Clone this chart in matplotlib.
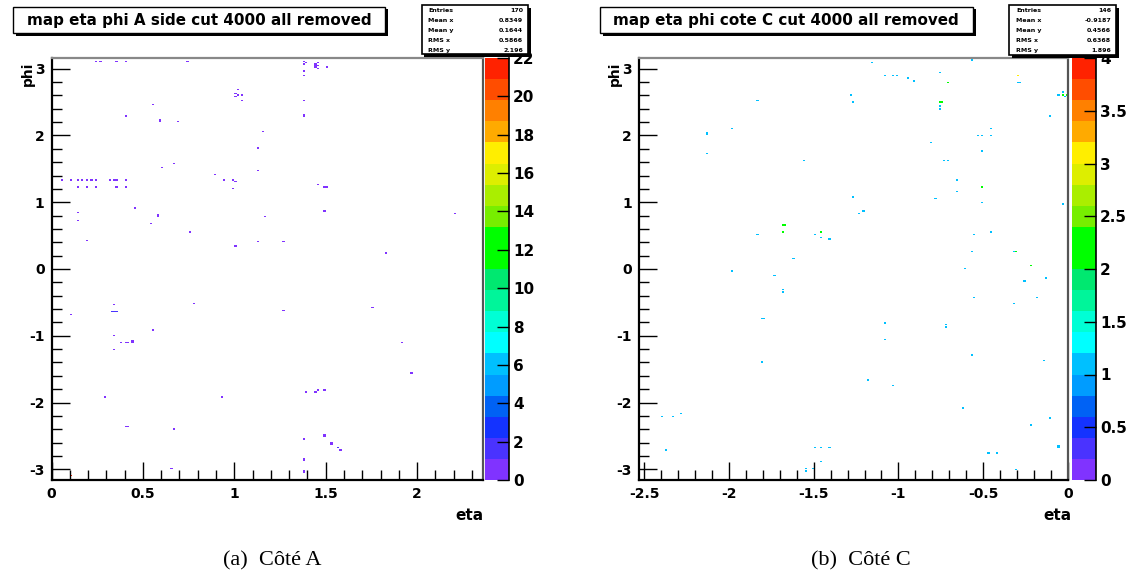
import matplotlib
matplotlib.use('Agg')
import matplotlib.pyplot as plt
import numpy as np
from matplotlib.colors import ListedColormap
from matplotlib.patches import Rectangle

plt.rcParams['font.family'] = ['DejaVu Sans']
plt.rcParams['axes.unicode_minus'] = False

# ---- cote A : single entry cells (eta, phi) ----
eta_a = [0.24, 0.27, 0.36, 0.40, 0.74,
         1.38, 1.38, 1.40, 1.45, 1.46, 1.45, 1.46, 1.45, 1.46, 1.50, 1.38, 1.38,
         0.56, 0.59, 0.59, 0.69, 0.41,
         1.005, 1.005, 1.025, 1.025, 1.04, 1.04,
         1.16, 1.13, 1.126, 1.38, 1.38, 1.38,
         0.61, 0.665, 0.89, 0.95, 0.99, 1.00, 0.99,
         0.05, 0.11, 0.145, 0.17, 0.19, 0.22, 0.24, 0.32, 0.34, 0.36, 0.40,
         0.145, 0.19, 0.24, 0.36, 0.40,
         1.46, 1.49, 1.50, 1.49,
         0.145, 0.145, 0.19, 0.45, 0.58, 0.58, 0.54, 0.76,
         1.005, 1.126, 1.17, 1.27, 1.83, 2.21,
         0.10, 0.35,
         0.785, 0.56, 0.34, 0.34, 0.38, 0.41, 0.42, 0.44, 0.44,
         0.29, 0.93, 0.40, 0.42, 0.665, 0.65,
         1.27, 1.76, 1.92, 1.97,
         1.40, 1.40, 1.44, 1.44, 1.457, 1.49,
         1.38, 1.49, 1.49, 1.53, 1.53, 1.565, 1.575, 1.578,
         1.38, 1.38, 1.38, 1.38]
phi_a = [3.11, 3.10, 3.12, 3.12, 3.10,
         3.11, 3.07, 3.08, 3.07, 3.08, 3.04, 3.04, 3.02, 3.00, 3.02, 2.96, 2.91,
         2.47, 2.24, 2.21, 2.21, 2.29,
         2.62, 2.59, 2.69, 2.61, 2.61, 2.53,
         2.07, 1.82, 1.48, 2.52, 2.32, 2.29,
         1.52, 1.58, 1.42, 1.34, 1.34, 1.31, 1.20,
         1.33, 1.33, 1.33, 1.33, 1.33, 1.33, 1.33, 1.33, 1.33, 1.33, 1.33,
         1.23, 1.23, 1.23, 1.23, 1.23,
         1.27, 1.23, 1.23, 0.87,
         0.84, 0.72, 0.43, 0.92, 0.81, 0.79, 0.68, 0.55,
         0.34, 0.41, 0.79, 0.41, 0.24, 0.83,
         -0.69, -0.53,
         -0.52, -0.92, -1.00, -1.21, -1.11, -1.11, -1.11, -1.07, -1.09,
         -1.91, -1.92, -2.35, -2.35, -2.39, -2.98,
         -0.62, -0.58, -1.11, -1.57,
         -1.83, -1.85, -1.83, -1.85, -1.82, -1.82,
         -2.54, -2.49, -2.51, -2.60, -2.63, -2.67, -2.67, -2.71,
         -2.83, -2.85, -3.02, -3.05]
# cells with more entries
eta_a_hi = [0.33, 0.345, 0.36, 0.104]
phi_a_hi = [-0.635, -0.635, -0.635, -3.08]
n_a_hi = [2, 2, 2, 22]

# ---- cote C ----
eta_c = [-1.83, -2.13, -2.13, -1.98, -2.13, -1.55, -1.83,
         -1.62, -1.49, -1.46, -1.45, -1.45, -1.405,
         -1.16, -0.57, -1.08, -1.025, -1.01, -0.94, -0.91, -0.76,
         -0.295, -0.28, -1.28, -1.27, -0.76, -0.76,
         -0.03, -0.06, -0.02, -0.10,
         -0.45, -0.53, -0.50, -0.45, -0.81, -0.50, -0.725, -0.71,
         -0.66, -0.66, -1.27, -0.78, -0.50, -0.03, -1.21, -1.225,
         -0.55, -0.45, -0.57, -0.315,
         -1.98, -1.73, -1.68, -1.68, -1.81, -1.79, -1.81,
         -2.39, -2.33, -2.28, -2.37,
         -1.49, -1.45, -1.405, -1.45, -1.545, -1.545, -1.51,
         -1.08, -1.08, -0.72, -0.72, -0.55, -0.32, -0.18,
         -1.18, -1.03, -0.565, -0.14, -0.62, -0.11, -0.22,
         -0.06, -0.06, -0.47, -0.42, -0.30, -0.61, -0.26, -0.13]
phi_c = [2.53, 2.04, 2.02, 2.10, 1.72, 1.62, 0.52,
         0.16, 0.52, 0.56, 0.55, 0.47, 0.46,
         3.09, 3.13, 2.90, 2.90, 2.90, 2.85, 2.81, 2.94,
         2.79, 2.79, 2.60, 2.51, 2.45, 2.39,
         2.65, 2.60, 2.58, 2.29,
         2.10, 1.99, 1.99, 1.99, 1.90, 1.76, 1.62, 1.62,
         1.33, 1.17, 1.08, 1.05, 1.00, 0.97, 0.86, 0.83,
         0.52, 0.56, 0.26, 0.26,
         -0.03, -0.10, -0.31, -0.34, -0.74, -0.74, -1.40,
         -2.20, -2.20, -2.17, -2.72,
         -2.67, -2.67, -2.67, -2.87, -2.99, -3.02, -2.99,
         -0.81, -1.06, -0.82, -0.86, -0.43, -0.51, -0.43,
         -1.67, -1.75, -1.29, -1.37, -2.08, -2.24, -2.33,
         -2.64, -2.68, -2.76, -2.76, -3.01, 0.0, -0.17, -0.14]
eta_c_hi = [-1.68, -1.665, -1.675, -0.705, -0.755, -0.74, -0.03, -0.01,
            -0.50, -0.30, -0.22, -0.29]
phi_c_hi = [0.65, 0.65, 0.55, 2.79, 2.51, 2.51, 2.60, 2.60,
            1.23, 0.26, 0.06, 2.90]
n_c_hi = [2, 2, 2, 2, 2, 2, 2, 2, 2, 2, 2, 3]

# ROOT like palette, 20 contours
pal = ['#8033ff', '#4a33ff', '#1433ff', '#0062f5', '#009cff', '#00c0ff',
       '#00ffff', '#00ffd5', '#00f59a', '#00e870', '#00ff00', '#00ff00',
       '#77ee00', '#aaee00', '#ddee00', '#ffee00', '#ffaa00', '#ff8000',
       '#ff4d00', '#ff2200']
cmap = ListedColormap(pal)

W, H = 1131, 578
fig = plt.figure(figsize=(W / 100, H / 100), dpi=100)


def box(x0, y0, x1, y1):
    return [x0 / W, 1 - y1 / H, (x1 - x0) / W, (y1 - y0) / H]


def frame(x0, y0, x1, y1, lw=1.0):
    # shadow + white box, ROOT style
    fig.patches.append(Rectangle((x0 / W + 2.5 / W, 1 - y1 / H - 2.5 / H), (x1 - x0) / W, (y1 - y0) / H,
                                 transform=fig.transFigure, facecolor='black', edgecolor='black', lw=0))
    fig.patches.append(Rectangle((x0 / W, 1 - y1 / H), (x1 - x0) / W, (y1 - y0) / H,
                                 transform=fig.transFigure, facecolor='white', edgecolor='black', lw=lw))


def panel(ax_rect, cb_rect, eta, phi, eta_hi, phi_hi, n_hi, xbins, xlim, vmax, cticks, xticks):
    ax = fig.add_axes(box(*ax_rect))
    cax = fig.add_axes(box(*cb_rect))
    ybins = np.linspace(-np.pi, np.pi, 301)
    x = list(eta) + list(eta_hi)
    y = list(phi) + list(phi_hi)
    w = [1] * len(eta) + list(n_hi)
    h = ax.hist2d(x, y, bins=[xbins, ybins], weights=w, cmin=0.5,
                  cmap=cmap, vmin=0, vmax=vmax)
    ax.set_xlim(*xlim)
    ax.set_ylim(-3.16, 3.16)
    ax.set_xticks(xticks)
    ax.set_xticks(np.arange(xticks[0], xlim[1], 0.1), minor=True)
    ax.set_yticks([-3, -2, -1, 0, 1, 2, 3])
    ax.set_yticks(np.arange(-3, 3.1, 0.2), minor=True)
    ax.set_xticklabels(['%g' % t for t in xticks])
    ax.set_yticklabels(['%g' % t for t in [-3, -2, -1, 0, 1, 2, 3]])
    ax.tick_params(which='both', direction='in', top=False, right=False, width=1.0,
                   labelsize=10, pad=5)
    ax.tick_params(which='major', length=13)
    ax.tick_params(which='minor', length=7)
    for lab in ax.get_xticklabels() + ax.get_yticklabels():
        lab.set_fontweight('bold')
    ax.spines['left'].set_linewidth(1.6)
    ax.spines['bottom'].set_linewidth(1.6)
    ax.spines['top'].set_color('#888888')
    ax.spines['right'].set_color('#555555')
    ax.spines['top'].set_linewidth(1.6)
    ax.spines['right'].set_linewidth(1.6)

    cb = fig.colorbar(h[3], cax=cax, ticks=cticks)
    cb.outline.set_visible(False)
    cax.plot([1, 1], [0, 1], color='black', lw=1.2, transform=cax.transAxes, clip_on=False)
    cax.tick_params(direction='in', length=9, width=1.0, labelsize=11, pad=3)
    cax.set_yticklabels(['%g' % t for t in cticks])
    for lab in cax.get_yticklabels():
        lab.set_fontweight('bold')
    return ax


panel((51.5, 58, 483, 480), (485, 58, 509, 480), eta_a, phi_a, eta_a_hi, phi_a_hi, n_a_hi,
      np.arange(0, 2.40, 0.0125), (0, 2.36), 22, list(range(0, 23, 2)),
      [0, 0.5, 1, 1.5, 2])
panel((639, 58, 1068, 480), (1072, 58, 1096, 480), eta_c, phi_c, eta_c_hi, phi_c_hi, n_c_hi,
      np.arange(-2.6, 0.001, 0.0125), (-2.53, 0), 4, [0, 0.5, 1, 1.5, 2, 2.5, 3, 3.5, 4],
      [-2.5, -2, -1.5, -1, -0.5, 0])

# titles
frame(13, 7, 385, 33)
fig.text(199 / W, 1 - 20.5 / H, 'map eta phi A side cut 4000 all removed',
         ha='center', va='center', fontsize=10.9, fontweight='bold')
frame(600, 7, 973, 33)
fig.text(786 / W, 1 - 20.5 / H, 'map eta phi cote C cut 4000 all removed',
         ha='center', va='center', fontsize=10.9, fontweight='bold')

# stats boxes
stat_names = ['Entries', 'Mean x', 'Mean y', 'RMS x', 'RMS y']
stats_a = ['170', '0.8349', '0.1644', '0.5866', '2.196']
stats_c = ['146', '-0.9187', '0.4566', '0.6368', '1.896']
frame(422, 5, 528, 54, lw=1.2)
for i, (n, v) in enumerate(zip(stat_names, stats_a)):
    yy = 1 - (11 + 9.8 * i) / H
    fig.text(428 / W, yy, n, ha='left', va='center', fontsize=4.5, fontweight='bold')
    fig.text(523 / W, yy, v, ha='right', va='center', fontsize=4.5, fontweight='bold')
frame(1009, 5, 1116, 55, lw=1.2)
for i, (n, v) in enumerate(zip(stat_names, stats_c)):
    yy = 1 - (11 + 9.9 * i) / H
    fig.text(1016 / W, yy, n, ha='left', va='center', fontsize=4.5, fontweight='bold')
    fig.text(1111 / W, yy, v, ha='right', va='center', fontsize=4.5, fontweight='bold')

# axis labels
fig.text(28 / W, 1 - 74 / H, 'phi', rotation=90, ha='center', va='center',
         fontsize=10, fontweight='bold')
fig.text(483 / W, 1 - 515 / H, 'eta', ha='right', va='center', fontsize=11, fontweight='bold')
fig.text(615 / W, 1 - 74 / H, 'phi', rotation=90, ha='center', va='center',
         fontsize=10, fontweight='bold')
fig.text(1071 / W, 1 - 515 / H, 'eta', ha='right', va='center', fontsize=11, fontweight='bold')

# sub captions
fig.text(272 / W, 1 - 561 / H, '(a)  Côté A', ha='center', va='center',
         fontsize=16, family='Liberation Serif')
fig.text(861 / W, 1 - 561 / H, '(b)  Côté C', ha='center', va='center',
         fontsize=16, family='Liberation Serif')

fig.savefig('out.png', dpi=100)
